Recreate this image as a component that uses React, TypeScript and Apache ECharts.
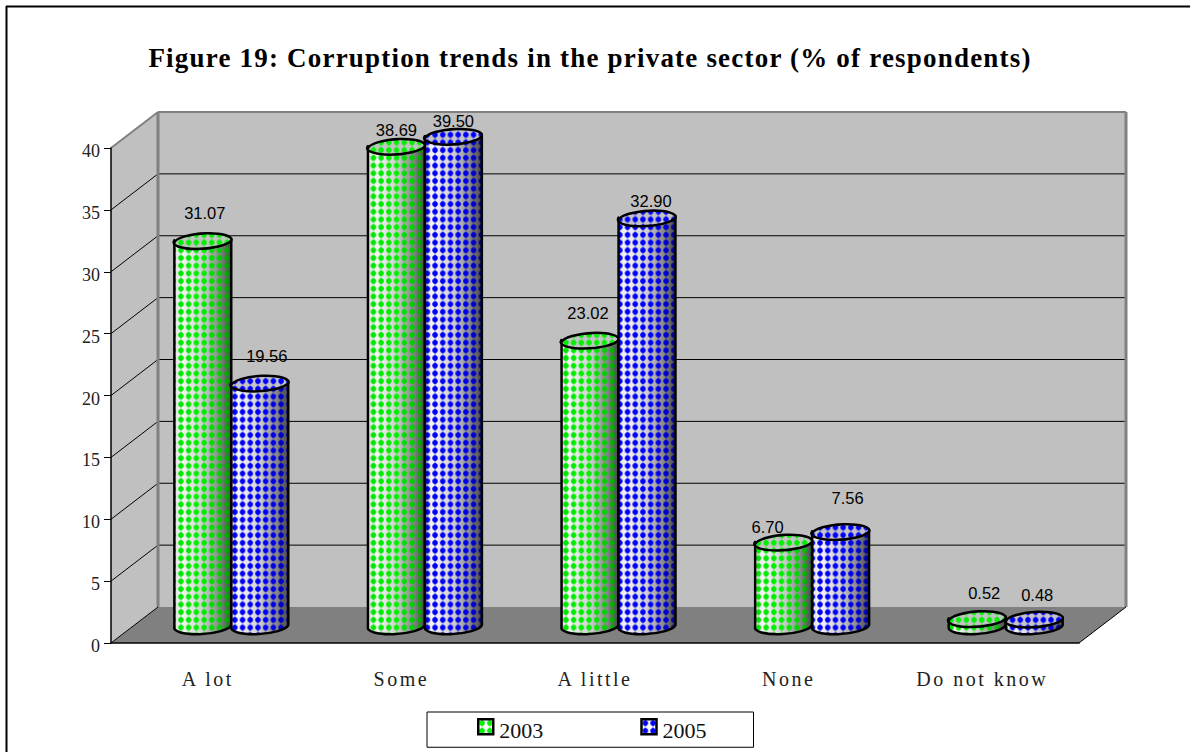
import React, { useEffect, useRef } from "react";
import * as echarts from "echarts";

const categories = ["A lot", "Some", "A little", "None", "Do not know"];
const values2003 = [31.07, 38.69, 23.02, 6.7, 0.52];
const values2005 = [19.56, 39.5, 32.9, 7.56, 0.48];
const yTicks = [0, 5, 10, 15, 20, 25, 30, 35, 40];

// Hand-placed value labels: offset from the centre of each cylinder's top.
const labelOffsets2003 = [[2, -28], [0, -16], [-2, -27], [-16, -15], [7, -26]];
const labelOffsets2005 = [[7, -27], [0, -15], [4, -17], [7, -33], [3, -24]];

const DEPTH_X = 47;
const DEPTH_Y = 36;
const RADIUS = 28.5;
const ELLIPSE_RY = 8;
const TILT_DEG = -4;
const TILE = 7.7;
const SERIF = "'Liberation Serif'";

function dotTile(color: string, background: string | null) {
  const canvas = document.createElement("canvas");
  canvas.width = 32;
  canvas.height = 32;
  const ctx = canvas.getContext("2d")!;
  if (background) {
    ctx.fillStyle = background;
    ctx.fillRect(0, 0, 32, 32);
  }
  ctx.fillStyle = color;
  ctx.beginPath();
  ctx.moveTo(16, 0);
  ctx.lineTo(25, 16);
  ctx.lineTo(16, 32);
  ctx.lineTo(7, 16);
  ctx.closePath();
  ctx.fill();
  ctx.beginPath();
  ctx.arc(16, 16, 11.5, 0, Math.PI * 2);
  ctx.fill();
  return { image: canvas, repeat: "repeat", imageWidth: TILE, imageHeight: TILE };
}

const sideLight = {
  type: "linear", x: 0, y: 0, x2: 1, y2: 0,
  colorStops: [
    { offset: 0, color: "#eeeeee" },
    { offset: 0.14, color: "#ffffff" },
    { offset: 0.55, color: "#c8c8c8" },
    { offset: 1, color: "#7a7a7a" },
  ],
};
const sideShade = {
  type: "linear", x: 0, y: 0, x2: 1, y2: 0,
  colorStops: [
    { offset: 0, color: "rgba(0,0,0,0.05)" },
    { offset: 0.5, color: "rgba(0,0,0,0)" },
    { offset: 0.8, color: "rgba(0,0,0,0.14)" },
    { offset: 1, color: "rgba(0,0,0,0.4)" },
  ],
};

function frameRenderer(params: any, api: any) {
  const { x, y, width, height } = params.coordSys;
  const left = x;
  const right = x + width;
  const floorY = y + height;
  const line = (x1: number, y1: number, x2: number, y2: number, stroke: string, w: number) => ({
    type: "line",
    shape: { x1, y1, x2, y2 },
    style: { stroke, lineWidth: w },
    silent: true,
  });
  const poly = (points: number[][], fill: string) => ({
    type: "polygon",
    shape: { points },
    style: { fill },
    silent: true,
  });
  const backTop = y - DEPTH_Y;
  const backFloor = floorY - DEPTH_Y;
  const children: any[] = [
    poly([[left, y], [left + DEPTH_X, backTop], [left + DEPTH_X, backFloor], [left, floorY]], "#c0c0c0"),
    poly([[left + DEPTH_X, backTop], [right + DEPTH_X, backTop], [right + DEPTH_X, backFloor], [left + DEPTH_X, backFloor]], "#c0c0c0"),
    poly([[left, floorY], [left + DEPTH_X, backFloor], [right + DEPTH_X, backFloor], [right, floorY]], "#808080"),
  ];
  yTicks.forEach((tick) => {
    if (tick === 0 || tick === yTicks[yTicks.length - 1]) return;
    const py = api.coord([0, tick])[1];
    children.push(line(left, py, left + DEPTH_X, py - DEPTH_Y, "#000", 1));
    children.push(line(left + DEPTH_X, py - DEPTH_Y, right + DEPTH_X, py - DEPTH_Y, "#000", 1));
  });
  children.push(line(left + DEPTH_X, backTop, left + DEPTH_X, backFloor, "#808080", 3));
  children.push(line(left, y, left + DEPTH_X, backTop, "#808080", 2));
  children.push(line(left + DEPTH_X, backTop, right + DEPTH_X, backTop, "#808080", 2));
  children.push(line(right + DEPTH_X, backTop, right + DEPTH_X, backFloor, "#808080", 3));
  children.push(line(left, floorY, left + DEPTH_X, backFloor, "#000", 1));
  children.push(line(right, floorY, right + DEPTH_X, backFloor, "#000", 1));
  return { type: "group", children };
}

function cylinderRenderer(side: -1 | 1, dots: any, offsets: number[][]) {
  const tiltRad = (TILT_DEG * Math.PI) / 180;
  const rise = RADIUS * Math.sin(tiltRad);
  const run = RADIUS * Math.cos(tiltRad);
  const arcHead = `${RADIUS} ${ELLIPSE_RY} ${TILT_DEG}`;
  return (params: any, api: any) => {
    const idx = api.value(0);
    const value = api.value(1);
    const baseP = api.coord([idx, 0]);
    const topP = api.coord([idx, value]);
    const cx = baseP[0] + DEPTH_X / 2 + side * RADIUS;
    const baseY = baseP[1] - DEPTH_Y / 2;
    const topY = topP[1] - DEPTH_Y / 2;
    const l = cx - run;
    const r = cx + run;
    // The tilted ellipse ends sit lower on the left and higher on the right.
    const body =
      `M${l} ${topY - rise}L${l} ${baseY - rise}A${arcHead} 0 0 ${r} ${baseY + rise}` +
      `L${r} ${topY + rise}A${arcHead} 0 1 ${l} ${topY - rise}Z`;
    const capPath =
      `M${l} ${topY - rise}A${arcHead} 0 1 ${r} ${topY + rise}` +
      `A${arcHead} 0 1 ${l} ${topY - rise}Z`;
    const outline = { stroke: "#000", lineWidth: 2.5, lineJoin: "round" };
    const layer = (pathData: string, fill: any, extra: any = {}) => ({
      type: "path",
      shape: { pathData },
      style: { fill, ...extra },
      silent: true,
    });
    const [ox, oy] = offsets[params.dataIndex];
    return {
      type: "group",
      children: [
        layer(body, sideLight),
        layer(body, dots),
        layer(body, sideShade, outline),
        layer(capPath, "#c4c4c4"),
        layer(capPath, dots, outline),
        {
          type: "text",
          x: cx + ox,
          y: topY + oy,
          style: {
            text: value.toFixed(2),
            fill: "#000",
            font: "16.5px 'Liberation Sans'",
            align: "center",
            verticalAlign: "middle",
          },
          silent: true,
        },
      ],
    };
  };
}

export default function App() {
  const ref = useRef<HTMLDivElement>(null);

  useEffect(() => {
    const chart = echarts.init(ref.current!, null, { renderer: "svg" });
    const green = dotTile("#00f000", null);
    const blue = dotTile("#0000ff", null);
    const toTuples = (vals: number[]) => vals.map((v, i) => [i, v]);

    chart.setOption({
      animation: false,
      backgroundColor: "#ffffff",
      title: {
        text: "Figure 19: Corruption trends in the private sector (% of respondents)",
        left: 585,
        top: 39,
        textAlign: "center",
        textStyle: { fontFamily: SERIF, fontWeight: "bold", fontSize: 27, color: "#000" },
      },
      legend: {
        left: 427,
        top: 712,
        padding: [6, 47, 6, 50],
        itemGap: 97,
        itemWidth: 15,
        itemHeight: 15,
        icon: "rect",
        backgroundColor: "#fff",
        borderColor: "#000",
        borderWidth: 1,
        borderRadius: 0,
        formatter: "{t|{name}}",
        textStyle: {
          fontFamily: SERIF,
          fontSize: 22,
          color: "#111",
          padding: [7, 0, 0, 1],
          rich: { t: { fontFamily: SERIF, fontSize: 22, color: "#111" } },
        },
        data: [
          { name: "2003", itemStyle: { color: dotTile("#00f000", "#fff"), borderColor: "#000", borderWidth: 2.5 } },
          { name: "2005", itemStyle: { color: dotTile("#0000ff", "#fff"), borderColor: "#000", borderWidth: 2.5 } },
        ],
      },
      grid: { left: 111, right: 111, top: 148, bottom: 109, containLabel: false },
      xAxis: {
        type: "category",
        data: categories,
        z: 5,
        axisLine: { lineStyle: { color: "#000", width: 1.5 } },
        axisTick: { length: 9, lineStyle: { color: "#222" } },
        axisLabel: { fontFamily: SERIF, fontSize: 20, color: "#222", margin: 26 },
      },
      yAxis: {
        type: "value",
        min: 0,
        max: 40,
        interval: 5,
        z: 5,
        splitLine: { show: false },
        axisLine: { show: true, lineStyle: { color: "#000", width: 1.5 } },
        axisTick: { show: true, length: 7, lineStyle: { color: "#000" } },
        axisLabel: {
          fontFamily: SERIF,
          fontSize: 18,
          color: "#222",
          margin: 11,
          padding: [6, 0, 0, 0],
          formatter: "{t|{value}}",
          rich: { t: { fontFamily: SERIF, fontSize: 18, color: "#222" } },
        },
      },
      series: [
        {
          type: "custom",
          coordinateSystem: "cartesian2d",
          silent: true,
          z: 1,
          data: [[0, 0]],
          renderItem: frameRenderer,
        },
        {
          name: "2003",
          type: "custom",
          coordinateSystem: "cartesian2d",
          z: 6,
          data: toTuples(values2003),
          renderItem: cylinderRenderer(-1, green, labelOffsets2003),
        },
        {
          name: "2005",
          type: "custom",
          coordinateSystem: "cartesian2d",
          z: 7,
          data: toTuples(values2005),
          renderItem: cylinderRenderer(1, blue, labelOffsets2005),
        },
      ],
      graphic: [
        {
          type: "line",
          silent: true,
          shape: { x1: 6, y1: 6.5, x2: 1190, y2: 6.5 },
          style: { stroke: "#000", lineWidth: 2 },
        },
        {
          type: "line",
          silent: true,
          shape: { x1: 6.5, y1: 6, x2: 6.5, y2: 752 },
          style: { stroke: "#000", lineWidth: 2 },
        },
      ],
    });
    return () => chart.dispose();
  }, []);

  return (
    <>
      <style>{`
        body { margin: 0; }
        .figure svg text[style*="bold"] { letter-spacing: 1.2px; }
        .figure svg text[style*="20px"] { letter-spacing: 2.5px; }
      `}</style>
      <div
        ref={ref}
        className="figure"
        style={{ position: "fixed", left: 0, top: 0, width: 1190, height: 752 }}
      />
    </>
  );
}
